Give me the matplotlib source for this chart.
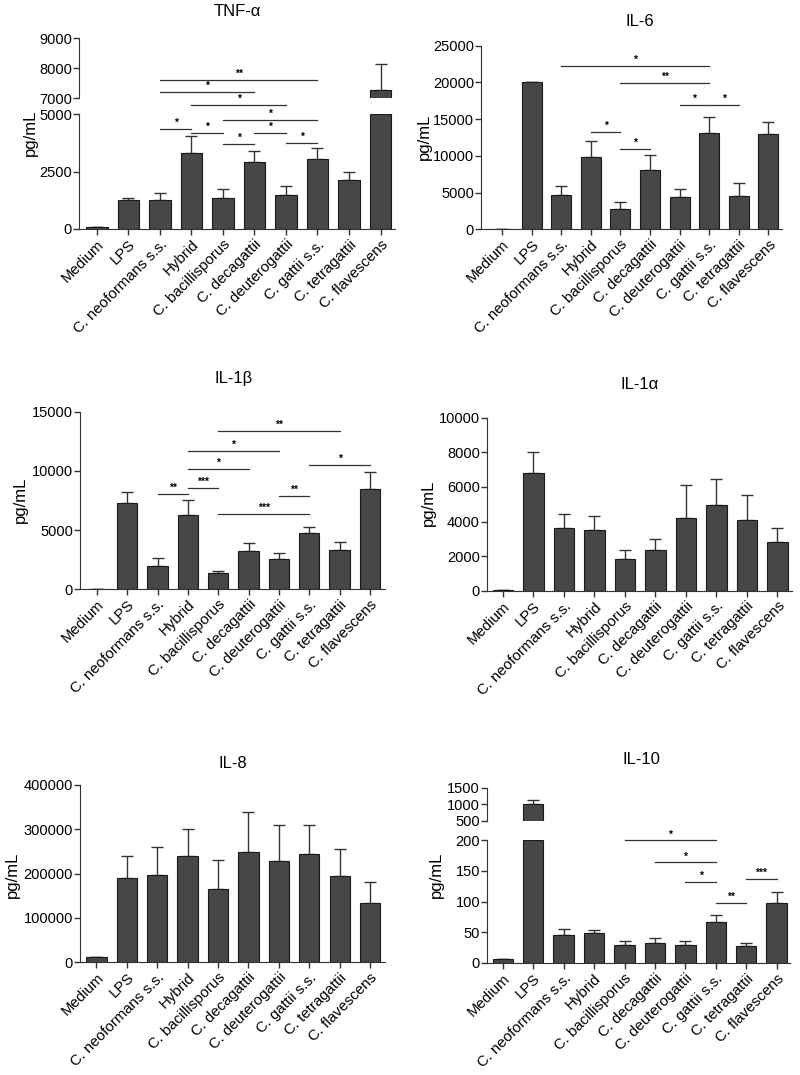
import numpy as np
import matplotlib
matplotlib.use('Agg')
import matplotlib.pyplot as plt

plt.rcParams['font.family'] = ['Liberation Sans', 'DejaVu Sans']

# ── data ──────────────────────────────────────
groups = ['Medium', 'LPS', 'C. neoformans s.s.', 'Hybrid', 'C. bacillisporus',
          'C. decagattii', 'C. deuterogattii', 'C. gattii s.s.', 'C. tetragattii',
          'C. flavescens']

tnf_mean = [80, 1260, 1280, 3310, 1340, 2910, 1500, 3040, 2130, 7260]
tnf_top = [80, 1330, 1550, 4040, 1730, 3410, 1860, 3520, 2500, 8120]

il6_mean = [100, 20000, 4700, 9800, 2800, 8100, 4350, 13100, 4600, 13000]
il6_top = [100, 20000, 5950, 12050, 3650, 10100, 5550, 15250, 6300, 14600]

il1b_mean = [50, 7260, 2010, 6300, 1350, 3240, 2560, 4790, 3350, 8510]
il1b_top = [50, 8200, 2650, 7550, 1580, 3920, 3040, 5300, 4030, 9910]

il1a_mean = [60, 6780, 3610, 3530, 1830, 2330, 4200, 4950, 4070, 2830]
il1a_top = [60, 8000, 4410, 4320, 2350, 2990, 6130, 6440, 5510, 3600]

il8_mean = [11500, 190000, 197000, 240000, 165000, 248000, 228000, 243000, 194000, 134000]
il8_top = [11500, 240000, 259000, 301000, 231000, 340000, 310000, 309000, 255000, 181000]

il10_mean = [7, 1000, 45, 48, 30, 33, 30, 66, 27, 98]
il10_top = [7, 1130, 55, 54, 36, 41, 36, 78, 32, 116]

# significance bars: (from group, to group, height in pg/mL, label)
tnf_sig = [(2, 7, 6480, '**'), (2, 5, 5960, '*'), (3, 6, 5390, '*'),
           (4, 7, 4740, '*'), (2, 3, 4360, '*'), (3, 4, 4175, '*'),
           (4, 5, 3700, '*'), (5, 6, 4175, '*'), (6, 7, 3750, '*')]
il6_sig = [(2, 7, 22240, '*'), (4, 7, 19900, '**'), (6, 7, 16970, '*'),
           (7, 8, 16970, '*'), (3, 4, 13210, '*'), (4, 5, 10910, '*')]
il1b_sig = [(4, 8, 13380, '**'), (3, 6, 11720, '*'), (3, 5, 10200, '*'),
            (7, 9, 10510, '*'), (2, 3, 8085, '**'), (3, 4, 8535, '***'),
            (6, 7, 7890, '**'), (4, 7, 6370, '***')]
il10_sig = [(4, 7, 199.5, '*'), (5, 7, 164, '*'), (6, 7, 132, '*'),
            (7, 8, 97.8, '**'), (8, 9, 137, '***')]

# ── styling ───────────────────────────────────
BAR = '#474747'
EDGE = '#1a1a1a'
LINE = '#333333'
W, H = 800, 1075

fig = plt.figure(figsize=(8, 10.75), dpi=100, facecolor='white')


def add_ax(left, right, bottom, top):
    return fig.add_axes([left / W, 1 - bottom / H, (right - left) / W, (bottom - top) / H])


def style(ax, xlim, ylim, yticks, xaxis=True):
    ax.set_xlim(*xlim)
    ax.set_ylim(*ylim)
    ax.set_yticks(yticks)
    ax.set_yticklabels([str(t) for t in yticks], fontsize=10.5)
    ax.spines[['top', 'right']].set_visible(False)
    ax.spines['left'].set_color(LINE)
    ax.spines['bottom'].set_color(LINE)
    ax.tick_params(axis='y', length=4, width=1, color=LINE, pad=1)
    ax.set_facecolor('none')
    if xaxis:
        ax.set_xticks(range(len(groups)))
        ax.set_xticklabels(groups, rotation=45, ha='right', rotation_mode='anchor',
                           fontsize=10.8)
        ax.tick_params(axis='x', length=4, width=1, color=LINE, pad=2)
    else:
        ax.spines['bottom'].set_visible(False)
        ax.set_xticks([])


def draw_bars(ax, mean, top, lo=0, hi=None):
    mean = np.array(mean, float)
    top = np.array(top, float)
    x = np.arange(len(mean))
    keep = mean > lo
    h = mean if hi is None else np.minimum(mean, hi)
    ax.bar(x[keep], h[keep] - lo, bottom=lo, width=0.67, color=BAR,
           edgecolor=EDGE, linewidth=0.8, zorder=2)
    ax.errorbar(x, mean, yerr=[np.zeros_like(mean), top - mean], fmt='none',
                ecolor=LINE, elinewidth=1, capsize=4, capthick=1, zorder=1)


def draw_sig(ax, sig, yrange):
    off = yrange * 0.006
    for i, j, y, lab in sig:
        ax.plot([i, j], [y, y], color=LINE, lw=0.9, clip_on=False)
        ax.text((i + j) / 2, y + off, lab, ha='center', va='bottom',
                fontsize=7.5, fontweight='bold', clip_on=False)


def label(x, y, title_y, title_x, title):
    fig.text(x / W, 1 - y / H, 'pg/mL', rotation=90, ha='center', va='center',
             fontsize=12)
    fig.text(title_x / W, 1 - title_y / H, title, ha='center', va='center',
             fontsize=12)


# TNF-α (broken axis)
ax = add_ax(79, 395, 229, 114)
draw_bars(ax, tnf_mean, tnf_top, hi=5000)
style(ax, (-0.57, 9.46), (0, 5000), [0, 2500, 5000])
draw_sig(ax, tnf_sig, 5000)
axu = add_ax(79, 395, 98, 38)
draw_bars(axu, tnf_mean, tnf_top, lo=7000)
style(axu, (-0.57, 9.46), (7000, 9000), [7000, 8000, 9000], xaxis=False)
label(30, 133, 11, 237, 'TNF-α')

# IL-6
ax = add_ax(481, 782, 229.3, 45.7)
draw_bars(ax, il6_mean, il6_top)
style(ax, (-0.71, 9.46), (0, 25000), [0, 5000, 10000, 15000, 20000, 25000])
draw_sig(ax, il6_sig, 25000)
label(424, 137, 21, 640, 'IL-6')

# IL-1β
ax = add_ax(80, 385, 589.3, 411.7)
draw_bars(ax, il1b_mean, il1b_top)
style(ax, (-0.56, 9.5), (0, 15000), [0, 5000, 10000, 15000])
draw_sig(ax, il1b_sig, 15000)
label(20, 500, 378, 234, 'IL-1β')

# IL-1α
ax = add_ax(486.7, 791.7, 590.7, 417.7)
draw_bars(ax, il1a_mean, il1a_top)
style(ax, (-0.53, 9.47), (0, 10000), [0, 2000, 4000, 6000, 8000, 10000])
label(428, 503, 385, 640, 'IL-1α')

# IL-8
ax = add_ax(80, 385, 962, 785)
draw_bars(ax, il8_mean, il8_top)
style(ax, (-0.54, 9.49), (0, 400000), [0, 100000, 200000, 300000, 400000])
label(12, 875, 763, 233, 'IL-8')

# IL-10 (broken axis)
ax = add_ax(487, 790, 963, 840)
draw_bars(ax, il10_mean, il10_top, hi=200)
style(ax, (-0.52, 9.44), (0, 200), [0, 50, 100, 150, 200])
draw_sig(ax, il10_sig, 200)
axu = add_ax(487, 790, 820.7, 787.7)
draw_bars(axu, il10_mean, il10_top, lo=500)
style(axu, (-0.52, 9.44), (500, 1500), [500, 1000, 1500], xaxis=False)
label(436, 875, 759, 641, 'IL-10')

plt.savefig('out.png', dpi=100, facecolor='white')
